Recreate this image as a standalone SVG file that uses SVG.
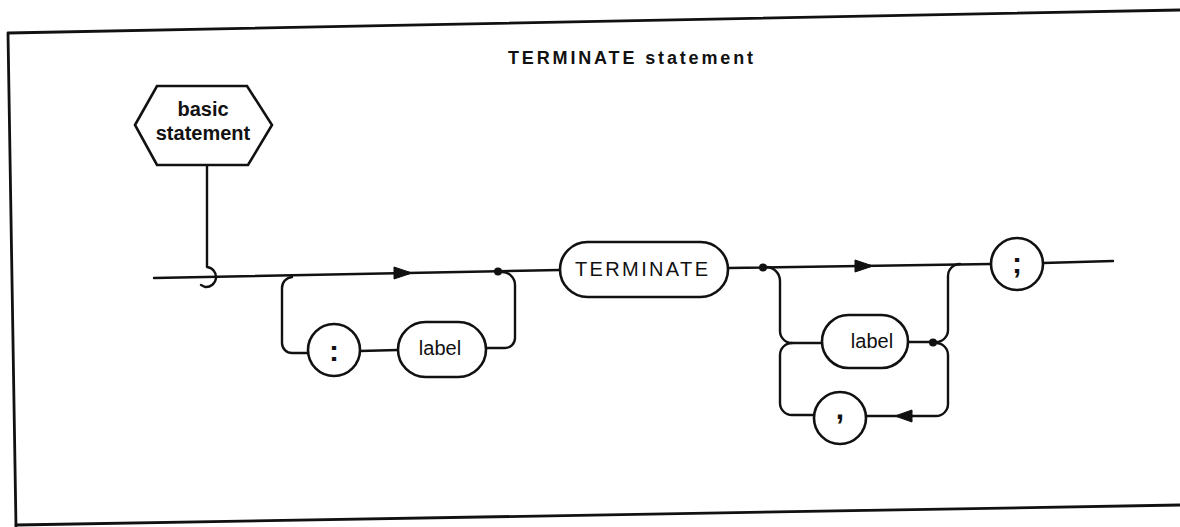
<svg xmlns="http://www.w3.org/2000/svg" width="1180" height="527" viewBox="0 0 1180 527">
<style>
.ln{fill:none;stroke:#111;stroke-width:2.4;stroke-linecap:round;stroke-linejoin:round}
.sh{fill:#fff;stroke:#111;stroke-width:2.6}
.t{font-family:"Liberation Sans",Arial,sans-serif;fill:#111}
.b{font-weight:bold}
.ar{fill:#111;stroke:#111;stroke-width:1}
.dot{fill:#111}
</style>
<rect width="1180" height="527" fill="#fff"/>
<g id="frame">
<polyline class="ln" points="1180,10 8,33 16,527" style="stroke-width:2.8"/>
<line class="ln" x1="16" y1="525" x2="1180" y2="505" style="stroke-width:2.8"/>
</g>
<text id="title" class="t b" x="508" y="64" font-size="18" textLength="245" lengthAdjust="spacing">TERMINATE statement</text>
<g id="connectors">
<path class="ln" d="M207,165 V267 A10,10 0 0 1 205,287 L201,285"/>
<path class="ln" d="M154,278 L560,270"/>
<path class="ln" d="M292,277 A11,11 0 0 0 282,288 V343 A10,10 0 0 0 292,353 H308"/>
<path class="ln" d="M360,351 L398,350"/>
<path class="ln" d="M486,348 H505 A10,10 0 0 0 515,338 V285 A13,13 0 0 0 502,272"/>
<polygon class="ar" points="412,273 394,267 394,279"/>
<circle class="dot" cx="498" cy="271.5" r="4"/>
<path class="ln" d="M728,268 L991,264"/>
<circle class="dot" cx="763" cy="267.5" r="4"/>
<polygon class="ar" points="873,266 855,260 855,272"/>
<path class="ln" d="M766,267 A14,14 0 0 1 780,281 V331 A12,12 0 0 0 792,343 H822"/>
<path class="ln" d="M792,343 A12,12 0 0 0 780,355 V403 A12,12 0 0 0 792,415 H814"/>
<path class="ln" d="M908,342 H933"/>
<circle class="dot" cx="933" cy="342.5" r="4"/>
<path class="ln" d="M936,342 A12,12 0 0 0 948,330 V276 A12,12 0 0 1 960,264"/>
<path class="ln" d="M936,343 A12,12 0 0 1 948,355 V404 A12,12 0 0 1 936,416 H867"/>
<polygon class="ar" points="895,416 912,410 912,422"/>
<path class="ln" d="M1043,263 L1113,261"/>
</g>
<g id="basic-statement">
<polygon class="sh" points="135,125 157,86 247,86 272,125 248,165 157,165"/>
<text class="t b" x="203" y="116" font-size="20" text-anchor="middle">basic</text>
<text class="t b" x="203" y="140" font-size="20" text-anchor="middle">statement</text>
</g>
<g id="colon">
<circle class="sh" cx="334" cy="350" r="26"/>
<text class="t b" x="334" y="361" font-size="30" text-anchor="middle">:</text>
</g>
<g id="label1">
<rect class="sh" x="398" y="322" width="88" height="55" rx="27.5"/>
<text class="t" x="440" y="355" font-size="20" text-anchor="middle">label</text>
</g>
<g id="terminate">
<rect class="sh" x="560" y="242" width="168" height="55" rx="27.5"/>
<text class="t" x="575" y="276" font-size="20" textLength="133" lengthAdjust="spacing">TERMINATE</text>
</g>
<g id="label2">
<rect class="sh" x="822" y="315" width="86" height="53" rx="26.5"/>
<text class="t" x="872" y="348" font-size="20" text-anchor="middle">label</text>
</g>
<g id="comma">
<circle class="sh" cx="840" cy="418" r="26"/>
<text class="t b" x="840" y="419" font-size="30" text-anchor="middle">,</text>
</g>
<g id="semicolon">
<circle class="sh" cx="1017" cy="264" r="26"/>
<text class="t b" x="1017" y="273" font-size="30" text-anchor="middle">;</text>
</g>
</svg>
